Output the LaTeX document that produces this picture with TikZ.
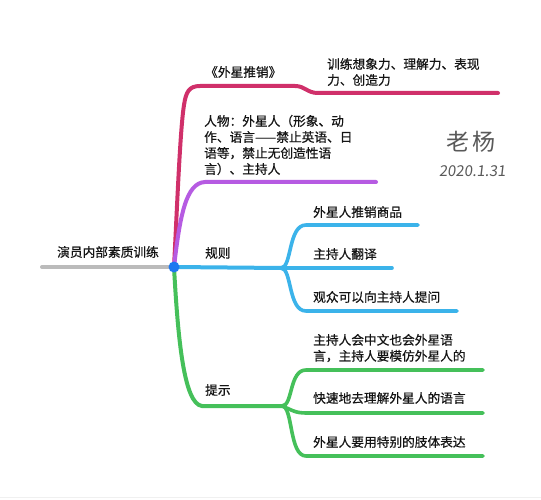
\documentclass[tikz,border=0pt]{standalone}
\usepackage{fontspec}
\setmainfont{Noto Sans CJK SC}
\newfontfamily\cjk[FakeBold=0.6]{Noto Sans CJK SC}
\newfontfamily\cjkthin{Noto Sans CJK SC}
\definecolor{cred}{HTML}{D0306A}
\definecolor{cpurple}{HTML}{B65BE2}
\definecolor{cblue}{HTML}{3BB3EA}
\definecolor{cgreen}{HTML}{45C05A}
\definecolor{cgray}{HTML}{BBBBBB}
\definecolor{cdot}{HTML}{1E78F0}
\begin{document}
\begin{tikzpicture}[x=1pt,y=-1pt,
  branch/.style={line width=4pt,line cap=round},
  leaf/.style={line width=3.6pt,line cap=round},
  lbl/.style={inner sep=0pt,anchor=west,font=\cjk\fontsize{12.7}{16}\selectfont,align=left,text=black!92}]
\useasboundingbox (0,0) rectangle (541,500);
\fill[white] (0,0) rectangle (541,500);
\draw[black!6,line width=1pt] (0,497) -- (541,497);
% coordinates
\coordinate (root) at (174,267);
\coordinate (grayend) at (42,267);
\coordinate (redend) at (498,93);
\coordinate (purend) at (376,182);
\coordinate (bluefork) at (281,268);
\coordinate (b1end) at (418,225);
\coordinate (b2end) at (392,268);
\coordinate (b3end) at (457,311);
\coordinate (greenfork) at (282,406);
\coordinate (g1end) at (483,370);
\coordinate (g2end) at (483,413);
\coordinate (g3end) at (483,456);
% connectors
\draw[cgray,branch] (root) -- (grayend);
\draw[cred,branch] (root) .. controls (177,210) and (180,130) .. (184,105) .. controls (186,92) and (189,86) .. (200,86) -- (295,86) .. controls (305,86) and (307,93) .. (318,93) -- (redend);
\draw[cpurple,branch] (root) .. controls (180,215) and (186,183) .. (205,182) -- (purend);
\draw[cgreen,branch] (root) .. controls (178,340) and (184,404) .. (202,406) -- (greenfork);
\draw[cblue,branch] (root) -- (bluefork);
\draw[cblue,leaf] (bluefork) .. controls (292,268) and (288,225) .. (306,225) -- (b1end);
\draw[cblue,leaf] (bluefork) -- (b2end);
\draw[cblue,leaf] (bluefork) .. controls (292,268) and (288,311) .. (306,311) -- (b3end);
\draw[cgreen,leaf] (greenfork) .. controls (293,406) and (289,370) .. (306,370) -- (g1end);
\draw[cgreen,leaf] (greenfork) .. controls (292,410) and (295,413) .. (306,413) -- (g2end);
\draw[cgreen,leaf] (greenfork) .. controls (293,406) and (289,456) .. (306,456) -- (g3end);
\fill[cdot] (root) circle (5.5);
% labels
\node[lbl,anchor=center] (rootlbl) at (108,252) {演员内部素质训练};
\node[lbl] (t1) at (205,72) {《外星推销》};
\node[lbl] (t1a) at (327,72) {训练想象力、理解力、表现\\力、创造力};
\node[lbl] (t2) at (204,145) {人物：外星人（形象、动\\作、语言——禁止英语、日\\语等，禁止无创造性语\\言）、主持人};
\node[lbl] (t3) at (205,253) {规则};
\node[lbl] (t3a) at (313,212) {外星人推销商品};
\node[lbl] (t3b) at (313,254) {主持人翻译};
\node[lbl] (t3c) at (313,297) {观众可以向主持人提问};
\node[lbl] (t4) at (205,390) {提示};
\node[lbl] (t4a) at (313,348) {主持人会中文也会外星语\\言，主持人要模仿外星人的};
\node[lbl] (t4b) at (313,398) {快速地去理解外星人的语言};
\node[lbl] (t4c) at (313,442) {外星人要用特别的肢体表达};
\node[inner sep=0pt,text=black!65,font=\cjkthin\fontsize{23}{25}\selectfont] (sig) at (471,142) {老\hspace{3pt}杨};
\node[inner sep=0pt,text=black!65,font=\cjkthin\fontsize{15}{17}\selectfont,xslant=0.12] (date) at (473,171) {2020.1.31};
\end{tikzpicture}
\end{document}
